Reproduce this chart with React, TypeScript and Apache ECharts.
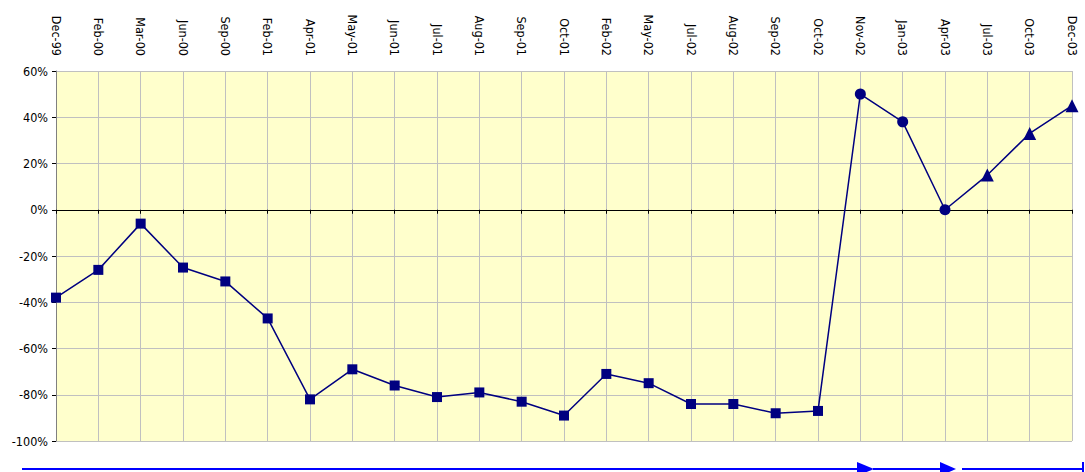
import React, { useEffect, useRef } from "react";
import * as echarts from "echarts";

const categories = [
  "Dec-99", "Feb-00", "Mar-00", "Jun-00", "Sep-00", "Feb-01", "Apr-01", "May-01",
  "Jun-01", "Jul-01", "Aug-01", "Sep-01", "Oct-01", "Feb-02", "May-02", "Jul-02",
  "Aug-02", "Sep-02", "Oct-02", "Nov-02", "Jan-03", "Apr-03", "Jul-03", "Oct-03", "Dec-03",
];

const values = [
  -38, -26, -6, -25, -31, -47, -82, -69, -76, -81, -79, -83, -89, -71, -75, -84,
  -84, -88, -87, 50, 38, 0, 15, 33, 45,
];

// marker shape per point: square phase, circle phase, triangle phase
const markers = [
  "rect", "rect", "rect", "rect", "rect", "rect", "rect", "rect", "rect", "rect",
  "rect", "rect", "rect", "rect", "rect", "rect", "rect", "rect", "rect",
  "circle", "circle", "circle", "triangle", "triangle", "triangle",
];

const yTicks = { min: -100, max: 60, interval: 20 };

const FONT = "'DejaVu Sans Condensed', 'DejaVu Sans', sans-serif";

export default function App() {
  const ref = useRef<HTMLDivElement>(null);
  useEffect(() => {
    if (!ref.current) return;
    const chart = echarts.init(ref.current, undefined, { renderer: "svg" });
    const sizeFor = (m: string) => (m === "rect" ? 10 : m === "circle" ? 11 : 13);
    chart.setOption({
      animation: false,
      backgroundColor: "#ffffff",
      grid: {
        left: 56,
        right: 13,
        top: 71,
        bottom: 31,
        show: true,
        backgroundColor: "#FFFFCC",
        borderWidth: 0,
      },
      xAxis: [
        {
          type: "category",
          data: categories,
          position: "top",
          boundaryGap: false,
          axisLine: { show: false, onZero: false },
          axisTick: { show: false },
          axisLabel: {
            rotate: 90,
            margin: 15,
            fontFamily: FONT,
            fontSize: 12.5,
            color: "#000000",
            interval: 0,
          },
          splitLine: { show: true, lineStyle: { color: "#C0C0C0", width: 1 } },
        },
        {
          type: "category",
          data: categories,
          position: "bottom",
          boundaryGap: false,
          axisLine: { show: true, onZero: true, lineStyle: { color: "#000000", width: 1 } },
          axisTick: { show: true, length: 4, interval: 0, lineStyle: { color: "#000000" } },
          axisLabel: { show: false },
          splitLine: { show: false },
        },
      ],
      yAxis: {
        type: "value",
        min: yTicks.min,
        max: yTicks.max,
        interval: yTicks.interval,
        axisLine: { show: true, onZero: false, lineStyle: { color: "#808080", width: 1 } },
        axisTick: { show: true, length: 4, lineStyle: { color: "#000000" } },
        axisLabel: {
          formatter: "{value}%",
          fontFamily: FONT,
          fontSize: 12.5,
          color: "#000000",
          margin: 8,
        },
        splitLine: { show: true, lineStyle: { color: "#C0C0C0", width: 1 } },
      },
      series: [
        {
          type: "line",
          xAxisIndex: 0,
          data: values.map((v, i) => ({
            value: v,
            symbol: markers[i],
            symbolSize: sizeFor(markers[i]),
          })),
          lineStyle: { color: "#000080", width: 1.5 },
          itemStyle: { color: "#000080" },
          showAllSymbol: true,
        },
      ],
      graphic: [
        { type: "line", shape: { x1: 22, y1: 469, x2: 860, y2: 469 }, style: { stroke: "#0000FF", lineWidth: 2 } },
        { type: "polygon", shape: { points: [[857, 462], [874, 469], [857, 476]] }, style: { fill: "#0000FF" } },
        { type: "line", shape: { x1: 873, y1: 469, x2: 942, y2: 469 }, style: { stroke: "#0000FF", lineWidth: 2 } },
        { type: "polygon", shape: { points: [[940, 462], [956, 469], [940, 476]] }, style: { fill: "#0000FF" } },
        { type: "line", shape: { x1: 962, y1: 469, x2: 1083, y2: 469 }, style: { stroke: "#0000FF", lineWidth: 2 } },
        { type: "line", shape: { x1: 1083, y1: 462, x2: 1083, y2: 476 }, style: { stroke: "#0000FF", lineWidth: 2 } },
      ],
    });
    return () => chart.dispose();
  }, []);
  return (
    <div
      ref={ref}
      style={{ position: "fixed", left: 0, top: 0, width: 1085, height: 472 }}
    />
  );
}
